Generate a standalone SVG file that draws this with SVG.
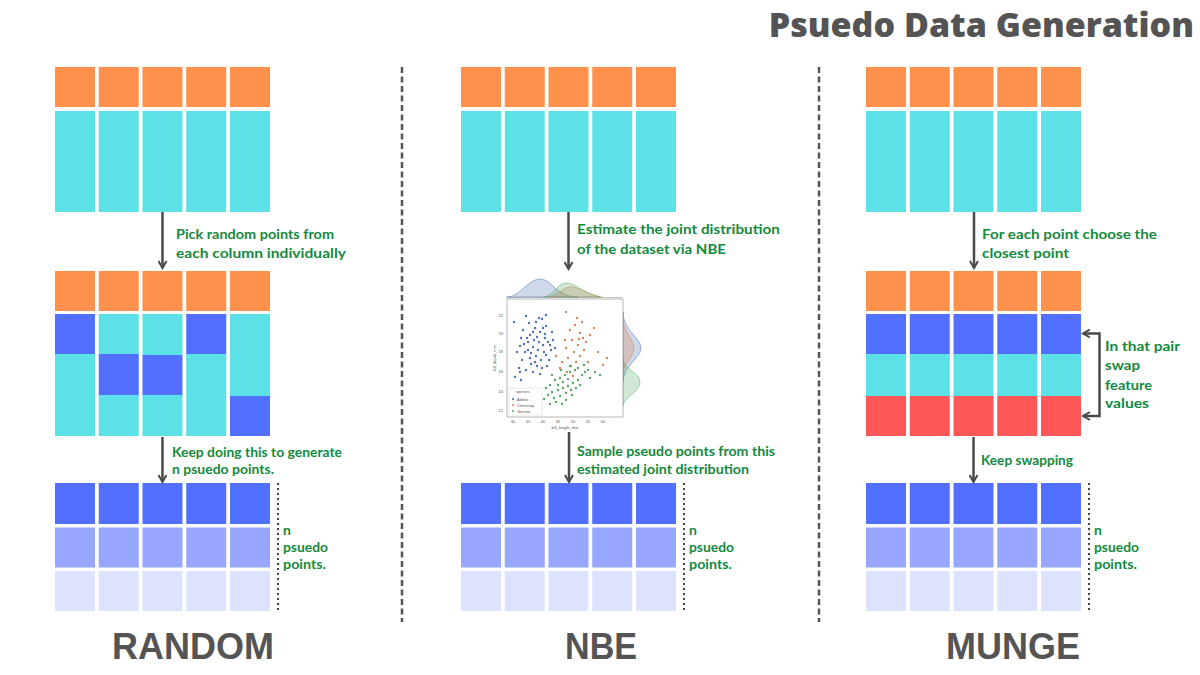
<svg xmlns="http://www.w3.org/2000/svg" width="1200" height="675" viewBox="0 0 1200 675">
<defs>
<style>
.or{fill:#FF914D}.cy{fill:#5CE1E6}.bl{fill:#5170FF}.b2{fill:#97A6FF}.b3{fill:#DDE3FF}.rd{fill:#FF5757}
.g{font-family:Lato,"Open Sans","Liberation Sans",sans-serif;font-weight:700;font-size:14px;fill:#138A3E}
.lab{font-family:"Liberation Sans",Arial,sans-serif;font-weight:700;font-size:37px;fill:#545454}
.ttl{font-family:"Open Sans","Liberation Sans",sans-serif;font-weight:800;font-size:34px;fill:#545454}
.arr{stroke:#4A4A4A;stroke-width:2.5;fill:none}
.sep{stroke:#555;stroke-width:2.5;stroke-dasharray:6 3.5;fill:none}
.dot{stroke:#444;stroke-width:2;stroke-dasharray:2 3;fill:none}
.tk{font-family:"Liberation Sans",Arial,sans-serif;font-size:4px;fill:#555}
.pa{fill:#4C72B0}.pc{fill:#DD8452}.pg{fill:#55A868}
</style>
<marker id="ah" viewBox="0 0 10 10" refX="8" refY="5" markerWidth="4" markerHeight="4" orient="auto" markerUnits="strokeWidth">
<path d="M1,1 L8,5 L1,9" fill="none" stroke="#4A4A4A" stroke-width="2"/>
</marker>
<g id="orow"><rect x="0" y="0" width="40" height="40" class="or"/><rect x="43.75" y="0" width="40" height="40" class="or"/><rect x="87.5" y="0" width="40" height="40" class="or"/><rect x="131.25" y="0" width="40" height="40" class="or"/><rect x="175" y="0" width="40" height="40" class="or"/></g>
<g id="ccol"><rect x="0" y="0" width="40" height="101" class="cy"/><rect x="43.75" y="0" width="40" height="101" class="cy"/><rect x="87.5" y="0" width="40" height="101" class="cy"/><rect x="131.25" y="0" width="40" height="101" class="cy"/><rect x="175" y="0" width="40" height="101" class="cy"/></g>
<g id="outt">
<rect x="0" y="0" width="40" height="41" class="bl"/><rect x="43.75" y="0" width="40" height="41" class="bl"/><rect x="87.5" y="0" width="40" height="41" class="bl"/><rect x="131.25" y="0" width="40" height="41" class="bl"/><rect x="175" y="0" width="40" height="41" class="bl"/>
<rect x="0" y="44.5" width="40" height="40" class="b2"/><rect x="43.75" y="44.5" width="40" height="40" class="b2"/><rect x="87.5" y="44.5" width="40" height="40" class="b2"/><rect x="131.25" y="44.5" width="40" height="40" class="b2"/><rect x="175" y="44.5" width="40" height="40" class="b2"/>
<rect x="0" y="88" width="40" height="40" class="b3"/><rect x="43.75" y="88" width="40" height="40" class="b3"/><rect x="87.5" y="88" width="40" height="40" class="b3"/><rect x="131.25" y="88" width="40" height="40" class="b3"/><rect x="175" y="88" width="40" height="40" class="b3"/>
<path d="M223,0 V128" class="dot"/>
<text class="g" x="228" y="52">n</text><text class="g" x="228" y="69" textLength="45" lengthAdjust="spacingAndGlyphs">psuedo</text><text class="g" x="228" y="86" textLength="43" lengthAdjust="spacingAndGlyphs">points.</text>
</g>
</defs>
<rect width="1200" height="675" fill="#FFFFFF"/>
<text class="ttl" x="1194" y="37" text-anchor="end">Psuedo Data Generation</text>

<g id="separators">
<path d="M402,67 V622" class="sep"/>
<path d="M819,67 V622" class="sep"/>
</g>

<!-- RANDOM -->
<g id="random-input"><use href="#orow" x="55" y="67"/><use href="#ccol" x="55" y="111"/></g>
<g id="random-mixed">
<use href="#orow" x="55" y="271"/>
<rect x="55" y="314" width="40" height="40" class="bl"/><rect x="55" y="354" width="40" height="82" class="cy"/>
<rect x="98.75" y="314" width="40" height="40" class="cy"/><rect x="98.75" y="354" width="40" height="41" class="bl"/><rect x="98.75" y="395" width="40" height="41" class="cy"/>
<rect x="142.5" y="314" width="40" height="41" class="cy"/><rect x="142.5" y="355" width="40" height="40" class="bl"/><rect x="142.5" y="395" width="40" height="41" class="cy"/>
<rect x="186.25" y="314" width="40" height="40" class="bl"/><rect x="186.25" y="354" width="40" height="82" class="cy"/>
<rect x="230" y="314" width="40" height="82" class="cy"/><rect x="230" y="396" width="40" height="40" class="bl"/>
</g>
<g id="random-output"><use href="#outt" x="55" y="483"/></g>
<text class="lab" x="112" y="659" textLength="162" lengthAdjust="spacingAndGlyphs">RANDOM</text>

<!-- NBE -->
<g id="nbe-input"><use href="#orow" x="461" y="67"/><use href="#ccol" x="461" y="111"/></g>
<g id="nbe-plot">
<path d="M507,297 C520,297 528,279 540,279 C552,279 556,297 578,297 Z" fill="#4C72B0" fill-opacity="0.28" stroke="#4C72B0" stroke-width="0.5"/>
<path d="M548,297 C558,297 562,286 572,287 C582,288 586,294 602,297 Z" fill="#DD8452" fill-opacity="0.28" stroke="#DD8452" stroke-width="0.5"/>
<path d="M543,297 C553,297 557,283 566,283 C576,283 580,292 600,297 Z" fill="#55A868" fill-opacity="0.28" stroke="#55A868" stroke-width="0.5"/>
<path d="M506,297.5 H622" stroke="#999" stroke-width="0.6"/>
<path d="M623,312 C623,330 641,338 641,348 C641,358 623,366 623,382 Z" fill="#4C72B0" fill-opacity="0.28" stroke="#4C72B0" stroke-width="0.5"/>
<path d="M623,320 C625,335 634,340 634,348 C634,356 625,362 623,372 Z" fill="#DD8452" fill-opacity="0.28" stroke="#DD8452" stroke-width="0.5"/>
<path d="M623,358 C623,370 640,372 640,382 C640,392 623,398 623,406 Z" fill="#55A868" fill-opacity="0.28" stroke="#55A868" stroke-width="0.5"/>
<rect x="507" y="299" width="116" height="118" fill="#FFFFFF" stroke="#888" stroke-width="0.6"/>
<g class="pa">
<circle cx="523" cy="330" r="1.2"/><circle cx="530" cy="335" r="1.2"/><circle cx="535" cy="328" r="1.2"/><circle cx="540" cy="332" r="1.2"/><circle cx="545" cy="338" r="1.2"/><circle cx="528" cy="342" r="1.2"/><circle cx="533" cy="347" r="1.2"/><circle cx="538" cy="350" r="1.2"/><circle cx="543" cy="345" r="1.2"/><circle cx="548" cy="342" r="1.2"/><circle cx="551" cy="350" r="1.2"/><circle cx="525" cy="352" r="1.2"/><circle cx="530" cy="358" r="1.2"/><circle cx="536" cy="356" r="1.2"/><circle cx="541" cy="360" r="1.2"/><circle cx="546" cy="355" r="1.2"/><circle cx="520" cy="346" r="1.2"/><circle cx="527" cy="338" r="1.2"/><circle cx="534" cy="340" r="1.2"/><circle cx="539" cy="342" r="1.2"/><circle cx="544" cy="352" r="1.2"/><circle cx="549" cy="360" r="1.2"/><circle cx="553" cy="340" r="1.2"/><circle cx="531" cy="364" r="1.2"/><circle cx="537" cy="366" r="1.2"/><circle cx="542" cy="368" r="1.2"/><circle cx="522" cy="360" r="1.2"/><circle cx="517" cy="352" r="1.2"/><circle cx="526" cy="370" r="1.2"/><circle cx="533" cy="372" r="1.2"/><circle cx="540" cy="374" r="1.2"/><circle cx="547" cy="366" r="1.2"/><circle cx="555" cy="348" r="1.2"/><circle cx="536" cy="322" r="1.2"/><circle cx="542" cy="319" r="1.2"/><circle cx="529" cy="323" r="1.2"/><circle cx="546" cy="326" r="1.2"/><circle cx="552" cy="332" r="1.2"/><circle cx="521" cy="338" r="1.2"/><circle cx="514" cy="322" r="1.2"/><circle cx="526" cy="316" r="1.2"/><circle cx="546" cy="315" r="1.2"/><circle cx="539" cy="318" r="1.2"/><circle cx="533" cy="332" r="1.2"/><circle cx="543" cy="328" r="1.2"/><circle cx="550" cy="345" r="1.2"/><circle cx="528" cy="350" r="1.2"/><circle cx="535" cy="362" r="1.2"/><circle cx="519" cy="368" r="1.2"/><circle cx="515" cy="377" r="1.2"/><circle cx="521" cy="380" r="1.2"/><circle cx="520" cy="372" r="1.2"/><circle cx="524" cy="344" r="1.2"/><circle cx="531" cy="353" r="1.2"/><circle cx="545" cy="334" r="1.2"/><circle cx="537" cy="337" r="1.2"/>
</g>
<g class="pc">
<circle cx="570" cy="330" r="1.2"/><circle cx="575" cy="325" r="1.2"/><circle cx="580" cy="333" r="1.2"/><circle cx="583" cy="338" r="1.2"/><circle cx="572" cy="340" r="1.2"/><circle cx="578" cy="345" r="1.2"/><circle cx="566" cy="348" r="1.2"/><circle cx="574" cy="352" r="1.2"/><circle cx="580" cy="356" r="1.2"/><circle cx="586" cy="342" r="1.2"/><circle cx="590" cy="335" r="1.2"/><circle cx="568" cy="358" r="1.2"/><circle cx="562" cy="362" r="1.2"/><circle cx="576" cy="362" r="1.2"/><circle cx="571" cy="366" r="1.2"/><circle cx="584" cy="350" r="1.2"/><circle cx="594" cy="328" r="1.2"/><circle cx="598" cy="352" r="1.2"/><circle cx="607" cy="358" r="1.2"/><circle cx="603" cy="365" r="1.2"/><circle cx="560" cy="368" r="1.2"/><circle cx="556" cy="356" r="1.2"/><circle cx="565" cy="340" r="1.2"/><circle cx="577" cy="318" r="1.2"/><circle cx="582" cy="322" r="1.2"/><circle cx="588" cy="362" r="1.2"/><circle cx="567" cy="372" r="1.2"/><circle cx="573" cy="376" r="1.2"/><circle cx="566" cy="312" r="1.2"/><circle cx="579" cy="339" r="1.2"/>
</g>
<g class="pg">
<circle cx="550" cy="385" r="1.2"/><circle cx="555" cy="380" r="1.2"/><circle cx="560" cy="378" r="1.2"/><circle cx="565" cy="375" r="1.2"/><circle cx="570" cy="372" r="1.2"/><circle cx="575" cy="370" r="1.2"/><circle cx="552" cy="392" r="1.2"/><circle cx="558" cy="390" r="1.2"/><circle cx="563" cy="388" r="1.2"/><circle cx="568" cy="386" r="1.2"/><circle cx="573" cy="383" r="1.2"/><circle cx="578" cy="380" r="1.2"/><circle cx="548" cy="395" r="1.2"/><circle cx="554" cy="398" r="1.2"/><circle cx="560" cy="396" r="1.2"/><circle cx="566" cy="393" r="1.2"/><circle cx="571" cy="390" r="1.2"/><circle cx="576" cy="388" r="1.2"/><circle cx="582" cy="375" r="1.2"/><circle cx="585" cy="372" r="1.2"/><circle cx="590" cy="378" r="1.2"/><circle cx="546" cy="388" r="1.2"/><circle cx="556" cy="402" r="1.2"/><circle cx="562" cy="404" r="1.2"/><circle cx="558" cy="385" r="1.2"/><circle cx="563" cy="382" r="1.2"/><circle cx="568" cy="379" r="1.2"/><circle cx="572" cy="395" r="1.2"/><circle cx="580" cy="385" r="1.2"/><circle cx="544" cy="399" r="1.2"/><circle cx="550" cy="404" r="1.2"/><circle cx="566" cy="400" r="1.2"/><circle cx="570" cy="366" r="1.2"/><circle cx="578" cy="368" r="1.2"/><circle cx="588" cy="370" r="1.2"/><circle cx="595" cy="372" r="1.2"/><circle cx="600" cy="375" r="1.2"/><circle cx="552" cy="375" r="1.2"/><circle cx="584" cy="365" r="1.2"/><circle cx="561" cy="370" r="1.2"/>
</g>
<rect x="509" y="388" width="33" height="27" fill="#FFFFFF" fill-opacity="0.85" stroke="#CCC" stroke-width="0.4"/>
<text class="tk" x="516" y="393">species</text>
<circle cx="513" cy="399" r="1.1" class="pa"/><text class="tk" x="517" y="400.5">Adelie</text>
<circle cx="513" cy="405" r="1.1" class="pc"/><text class="tk" x="517" y="406.5">Chinstrap</text>
<circle cx="513" cy="411" r="1.1" class="pg"/><text class="tk" x="517" y="412.5">Gentoo</text>
<g class="tk" text-anchor="end">
<text x="503" y="316.5">22</text><text x="503" y="334.5">20</text><text x="503" y="353">18</text><text x="503" y="373">16</text><text x="503" y="393">14</text><text x="503" y="412">12</text>
</g>
<g class="tk" text-anchor="middle">
<text x="513" y="423">30</text><text x="528" y="423">35</text><text x="543" y="423">40</text><text x="558" y="423">45</text><text x="573" y="423">50</text><text x="588" y="423">55</text><text x="603" y="423">60</text>
<text x="565" y="429">bill_length_mm</text>
<text x="0" y="0" transform="translate(496,358) rotate(-90)">bill_depth_mm</text>
</g>
</g>
<g id="nbe-output"><use href="#outt" x="461" y="483"/></g>
<text class="lab" x="565" y="659" textLength="72" lengthAdjust="spacingAndGlyphs">NBE</text>

<!-- MUNGE -->
<g id="munge-input"><use href="#orow" x="866" y="67"/><use href="#ccol" x="866" y="111"/></g>
<g id="munge-pair">
<use href="#orow" x="866" y="271"/>
<rect x="866" y="314" width="40" height="40" class="bl"/><rect x="909.75" y="314" width="40" height="40" class="bl"/><rect x="953.5" y="314" width="40" height="40" class="bl"/><rect x="997.25" y="314" width="40" height="40" class="bl"/><rect x="1041" y="314" width="40" height="40" class="bl"/>
<rect x="866" y="354" width="40" height="42" class="cy"/><rect x="909.75" y="354" width="40" height="42" class="cy"/><rect x="953.5" y="354" width="40" height="42" class="cy"/><rect x="997.25" y="354" width="40" height="42" class="cy"/><rect x="1041" y="354" width="40" height="42" class="cy"/>
<rect x="866" y="396" width="40" height="40" class="rd"/><rect x="909.75" y="396" width="40" height="40" class="rd"/><rect x="953.5" y="396" width="40" height="40" class="rd"/><rect x="997.25" y="396" width="40" height="40" class="rd"/><rect x="1041" y="396" width="40" height="40" class="rd"/>
</g>
<g id="munge-output"><use href="#outt" x="866" y="483"/></g>
<text class="lab" x="946" y="659" textLength="134" lengthAdjust="spacingAndGlyphs">MUNGE</text>

<g id="connectors">
<path d="M162.5,212 V268" class="arr" marker-end="url(#ah)"/>
<path d="M162.5,437 V482" class="arr" marker-end="url(#ah)"/>
<path d="M568.5,212 V269" class="arr" marker-end="url(#ah)"/>
<path d="M569,432 V482" class="arr" marker-end="url(#ah)"/>
<path d="M974,212 V268" class="arr" marker-end="url(#ah)"/>
<path d="M973.5,437 V482" class="arr" marker-end="url(#ah)"/>
<path d="M1099.5,333.5 H1083" class="arr" marker-end="url(#ah)"/>
<path d="M1099.5,416 H1083" class="arr" marker-end="url(#ah)"/>
<path d="M1099.5,332.3 V417.2" class="arr"/>
</g>

<g id="labels">
<text class="g" x="176" y="239" textLength="158" lengthAdjust="spacingAndGlyphs">Pick random points from</text>
<text class="g" x="176" y="258" textLength="170" lengthAdjust="spacingAndGlyphs">each column individually</text>
<text class="g" x="172" y="457" textLength="170" lengthAdjust="spacingAndGlyphs">Keep doing this to generate</text>
<text class="g" x="172" y="474" textLength="102" lengthAdjust="spacingAndGlyphs">n psuedo points.</text>
<text class="g" x="577" y="233.5" textLength="203" lengthAdjust="spacingAndGlyphs">Estimate the joint distribution</text>
<text class="g" x="577" y="253.5" textLength="149" lengthAdjust="spacingAndGlyphs">of the dataset via NBE</text>
<text class="g" x="577" y="456" textLength="198" lengthAdjust="spacingAndGlyphs">Sample pseudo points from this</text>
<text class="g" x="577" y="473.5" textLength="172" lengthAdjust="spacingAndGlyphs">estimated joint distribution</text>
<text class="g" x="982" y="239" textLength="175" lengthAdjust="spacingAndGlyphs">For each point choose the</text>
<text class="g" x="982" y="258" textLength="87" lengthAdjust="spacingAndGlyphs">closest point</text>
<text class="g" x="981" y="465" textLength="92" lengthAdjust="spacingAndGlyphs">Keep swapping</text>
<text class="g" x="1105" y="351" textLength="75" lengthAdjust="spacingAndGlyphs">In that pair</text>
<text class="g" x="1105" y="370" textLength="35" lengthAdjust="spacingAndGlyphs">swap</text>
<text class="g" x="1105" y="389.5" textLength="47" lengthAdjust="spacingAndGlyphs">feature</text>
<text class="g" x="1105" y="408" textLength="44" lengthAdjust="spacingAndGlyphs">values</text>
</g>
</svg>
